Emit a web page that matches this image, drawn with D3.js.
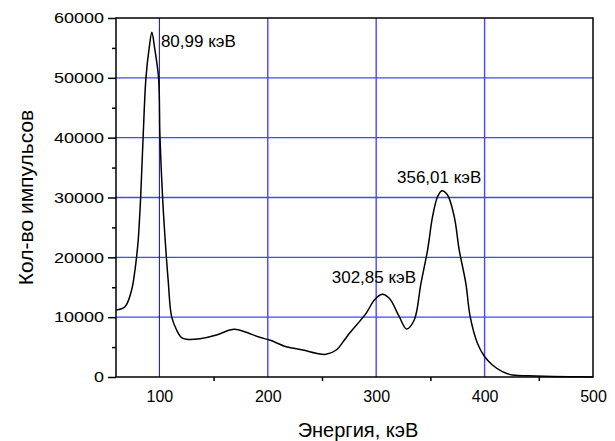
<!DOCTYPE html>
<html>
<head>
<meta charset="utf-8">
<script src="https://cdn.jsdelivr.net/npm/d3@7"></script>
<style>
  html, body { margin: 0; padding: 0; background: #fff; }
  svg { display: block; }
  text { font-family: "Liberation Sans", Arial, Helvetica, sans-serif; fill: #000; }
</style>
</head>
<body>
<svg id="chart" width="615" height="441"></svg>
<script>
// ---- data ----
const energy = [60, 68.3, 74.4, 77.5, 79.0, 80.5, 82.7, 85.1, 87.6, 90.6, 93.1, 95.6, 99.3, 100.5, 103.0, 106.0, 108.1, 111.3, 115.9, 120.5, 125.1, 137.3, 152.7, 164.9, 169.5, 178.7, 192.5, 201.7, 217.1, 232.4, 244.7, 253.9, 263.1, 270.7, 275.3, 290.7, 298.3, 305.4, 312.1, 321.3, 328.1, 335.1, 341.3, 347.4, 352.0, 356.6, 360.6, 365.8, 372.0, 376.6, 382.7, 386.7, 393.4, 399.6, 407.2, 416.4, 425.6, 447.1, 477.8, 500];
const counts = [11200, 11750, 14540, 17880, 20100, 22900, 29860, 40440, 49910, 55000, 57600, 55000, 49910, 40440, 29910, 21220, 16210, 10080, 7850, 6570, 6300, 6400, 7020, 7850, 7970, 7570, 6630, 6180, 5060, 4510, 3960, 3790, 4510, 6180, 7300, 10640, 12870, 13820, 13150, 10080, 8020, 9520, 15660, 21220, 26790, 30130, 31130, 30410, 26790, 21220, 15660, 10080, 5630, 3510, 2000, 890, 330, 170, 50, 0];

const xTicks = [100, 200, 300, 400, 500];
const xMinorTicks = [150, 250, 350, 450];
const yTicks = [0, 10000, 20000, 30000, 40000, 50000, 60000];
const yMinorTicks = [5000, 15000, 25000, 35000, 45000, 55000];

const peakLabels = ["80,99 кэВ", "302,85 кэВ", "356,01 кэВ"];
const peakLabelEnergy = [101.4, 259.0, 319.2];
const peakLabelCounts = [55200, 15660, 32470];

const xTitle = "Энергия, кэВ";
const yTitle = "Кол-во импульсов";

// ---- layout ----
const W = 615, H = 441;
const m = { left: 116, top: 18, right: 22, bottom: 64 };
const pw = W - m.left - m.right, ph = H - m.top - m.bottom;

const svg = d3.select("#chart");
const x = d3.scaleLinear().domain([60, 500]).range([m.left, m.left + pw]);
const y = d3.scaleLinear().domain([0, 60000]).range([m.top + ph, m.top]);

// grid
const g = svg.append("g");
g.selectAll("line.hg").data(yTicks.filter(v => v > 0 && v < 60000)).join("line")
  .attr("x1", m.left).attr("x2", m.left + pw)
  .attr("y1", d => y(d)).attr("y2", d => y(d))
  .attr("stroke", "#4646ff").attr("stroke-width", 1.4);
g.selectAll("line.vg").data(xTicks.filter(v => v < 500)).join("line")
  .attr("y1", m.top).attr("y2", m.top + ph)
  .attr("x1", d => x(d)).attr("x2", d => x(d))
  .attr("stroke", d => d === 100 ? "#0000e0" : "#4646ff")
  .attr("stroke-width", d => d === 100 ? 1 : 1.4);

// curve
const pts = energy.map((e, i) => [e, counts[i]]);
svg.append("path").datum(pts)
  .attr("fill", "none").attr("stroke", "#000").attr("stroke-width", 1.5)
  .attr("d", d3.line().x(d => x(d[0])).y(d => y(d[1])).curve(d3.curveCatmullRom.alpha(0.5)));

// frame
svg.append("rect").attr("x", m.left).attr("y", m.top).attr("width", pw).attr("height", ph)
  .attr("fill", "none").attr("stroke", "#000").attr("stroke-width", 1.5);

// axes
const xAxis = svg.append("g").attr("transform", `translate(0,${m.top + ph})`)
  .call(d3.axisBottom(x).tickValues(xTicks).tickSize(0).tickPadding(14).tickFormat(d3.format("d")));
xAxis.select(".domain").remove();
xAxis.selectAll("text").attr("font-size", 16);
const xMinor = svg.append("g").attr("transform", `translate(0,${m.top + ph})`)
  .call(d3.axisBottom(x).tickValues(xMinorTicks).tickSize(4).tickFormat(""));
xMinor.select(".domain").remove();
xMinor.selectAll("line").attr("stroke-width", 1.5);

const yAxis = svg.append("g").attr("transform", `translate(${m.left},0)`)
  .call(d3.axisLeft(y).tickValues(yTicks).tickSize(8).tickPadding(4).tickFormat(d3.format("d")));
yAxis.select(".domain").remove();
yAxis.selectAll("line").attr("stroke-width", 1.5);
yAxis.selectAll("text").attr("font-size", 15).attr("x", -10).attr("transform", "scale(1.2,1)");
const yMinor = svg.append("g").attr("transform", `translate(${m.left},0)`)
  .call(d3.axisLeft(y).tickValues(yMinorTicks).tickSize(4).tickFormat(""));
yMinor.select(".domain").remove();
yMinor.selectAll("line").attr("stroke-width", 1.5);

// peak labels
svg.selectAll("text.peak").data(peakLabels).join("text")
  .attr("class", "peak")
  .attr("x", (d, i) => x(peakLabelEnergy[i]))
  .attr("y", (d, i) => y(peakLabelCounts[i]))
  .attr("font-size", 17)
  .text(d => d);

// titles
svg.append("text").attr("x", 358).attr("y", 437)
  .attr("text-anchor", "middle").attr("font-size", 20).text(xTitle);
svg.append("text").attr("transform", `translate(33,${m.top + ph / 2}) rotate(-90)`)
  .attr("text-anchor", "middle").attr("font-size", 21).text(yTitle);
</script>
</body>
</html>
